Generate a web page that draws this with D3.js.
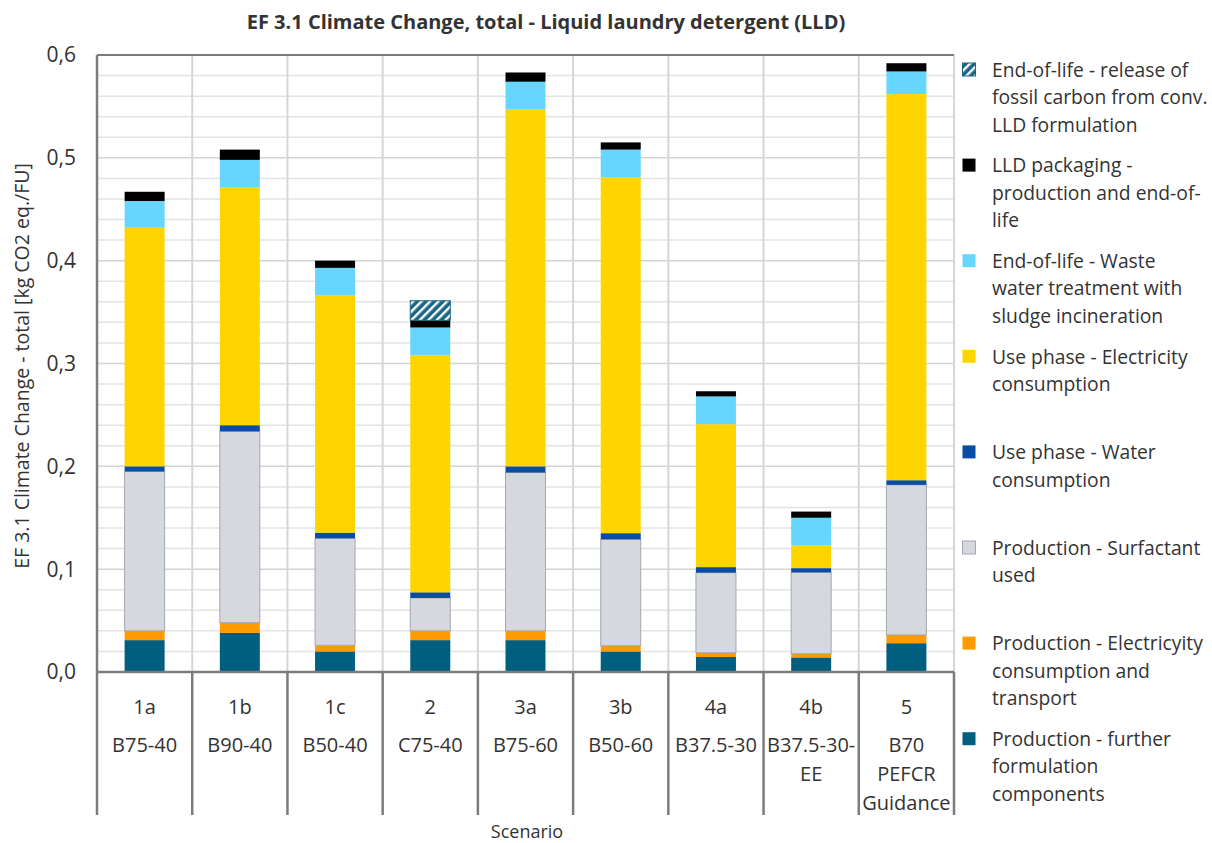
<!DOCTYPE html>
<html><head><meta charset="utf-8">
<script src="https://cdn.jsdelivr.net/npm/d3@7"></script>
<style>
body{margin:0;background:#fff;}
text{font-family:"Open Sans","Noto Sans",sans-serif;fill:#333;}
</style></head>
<body>
<svg id="chart" width="1212" height="843"></svg>
<script>
// ---- data ----
const scenarioIds = ["1a","1b","1c","2","3a","3b","4a","4b","5"];
const scenarioNames = [["B75-40"],["B90-40"],["B50-40"],["C75-40"],["B75-60"],["B50-60"],["B37.5-30"],["B37.5-30-","EE"],["B70","PEFCR","Guidance"]];
const prodFurther   = [0.031,0.038,0.020,0.031,0.031,0.020,0.0146,0.0142,0.028];
const prodElec      = [0.009,0.010,0.006,0.009,0.009,0.0056,0.0042,0.0036,0.008];
const prodSurf      = [0.155,0.186,0.104,0.032,0.154,0.1034,0.0778,0.0791,0.146];
const useWater      = [0.005,0.006,0.0055,0.0055,0.006,0.006,0.0054,0.0041,0.0045];
const useElec       = [0.232,0.231,0.2305,0.2305,0.347,0.346,0.139,0.022,0.3755];
const eolWaste      = [0.026,0.027,0.027,0.027,0.027,0.027,0.027,0.027,0.022];
const packaging     = [0.009,0.010,0.007,0.007,0.009,0.007,0.005,0.006,0.008];
const eolFossil     = [0,0,0,0.019,0,0,0,0,0];
const yTicks = [0,0.1,0.2,0.3,0.4,0.5,0.6];
const yTickLabels = ["0,0","0,1","0,2","0,3","0,4","0,5","0,6"];
const seriesDefs = [
  {key:"prodFurther", values:prodFurther, color:"#005E7E", label:["Production - further","formulation","components"]},
  {key:"prodElec", values:prodElec, color:"#FF9A00", label:["Production - Electricyity","consumption and","transport"]},
  {key:"prodSurf", values:prodSurf, color:"#D5D8DD", stroke:"#A3A8AE", label:["Production - Surfactant","used"]},
  {key:"useWater", values:useWater, color:"#0A4BA5", label:["Use phase - Water","consumption"]},
  {key:"useElec", values:useElec, color:"#FFD500", label:["Use phase - Electricity","consumption"]},
  {key:"eolWaste", values:eolWaste, color:"#66D6FF", label:["End-of-life - Waste","water treatment with","sludge incineration"]},
  {key:"packaging", values:packaging, color:"#000000", label:["LLD packaging -","production and end-of-","life"]},
  {key:"eolFossil", values:eolFossil, color:"url(#hatch)", stroke:"#1B6584", label:["End-of-life - release of","fossil carbon from conv.","LLD formulation"]}
];
const title = "EF 3.1 Climate Change, total - Liquid laundry detergent (LLD)";
const yTitle = "EF 3.1 Climate Change - total [kg CO2 eq./FU]";
const xTitle = "Scenario";

// ---- layout ----
const svg = d3.select("#chart");
const X0 = 97, X1 = 954, Y0 = 672, Y1 = 55;
const x = d3.scaleBand().domain(scenarioIds).range([X0, X1]).paddingInner(0.58).paddingOuter(0.29);
const y = d3.scaleLinear().domain([0, 0.6]).range([Y0, Y1]);
const step = x.step();

const defs = svg.append("defs");
const pat = defs.append("pattern").attr("id","hatch").attr("patternUnits","userSpaceOnUse")
  .attr("width",6).attr("height",6).attr("patternTransform","rotate(45)");
pat.append("rect").attr("width",6).attr("height",6).attr("fill","#1B6584");
pat.append("rect").attr("x",0).attr("width",2.4).attr("height",6).attr("fill","#fff");

// gridlines
const minor = d3.range(0, 0.6001, 0.02);
svg.append("g").selectAll("line").data(minor).join("line")
  .attr("x1", X0).attr("x2", X1)
  .attr("y1", d => y(d)).attr("y2", d => y(d))
  .attr("stroke", (d,i) => i % 5 === 0 ? "#D4D4D4" : "#E3E3E3").attr("stroke-width", 1.5);
const bounds = d3.range(0, scenarioIds.length + 1).map(i => X0 + i * step);
svg.append("g").selectAll("line").data(bounds.slice(1)).join("line")
  .attr("x1", d => d).attr("x2", d => d).attr("y1", Y1).attr("y2", Y0)
  .attr("stroke", "#D6D6D6").attr("stroke-width", 2);

// stacked bars
const rows = scenarioIds.map((id, i) => {
  const r = {id};
  seriesDefs.forEach(s => r[s.key] = s.values[i]);
  return r;
});
const stack = d3.stack().keys(seriesDefs.map(s => s.key));
const layers = stack(rows);
layers.forEach((layer, li) => {
  const s = seriesDefs[li];
  svg.append("g").selectAll("rect").data(layer.filter(d => d[1] - d[0] > 0)).join("rect")
    .attr("x", d => x(d.data.id)).attr("width", x.bandwidth())
    .attr("y", d => y(d[1])).attr("height", d => y(d[0]) - y(d[1]))
    .attr("fill", s.color)
    .attr("stroke", s.stroke || "none").attr("stroke-width", s.stroke ? 1 : 0);
});

// frame: top and left
svg.append("line").attr("x1", X0).attr("x2", X1).attr("y1", Y1).attr("y2", Y1).attr("stroke", "#7F7A7C").attr("stroke-width", 2);
svg.append("line").attr("x1", X0).attr("x2", X0).attr("y1", Y1).attr("y2", Y0).attr("stroke", "#7F7A7C").attr("stroke-width", 2.5);
// bottom axis and category dividers
svg.append("line").attr("x1", X0).attr("x2", X1).attr("y1", Y0).attr("y2", Y0).attr("stroke", "#7F7A7C").attr("stroke-width", 2.5);
svg.append("g").selectAll("line").data(bounds).join("line")
  .attr("x1", d => d).attr("x2", d => d).attr("y1", Y0).attr("y2", 815)
  .attr("stroke", "#7F7A7C").attr("stroke-width", 2.5);

// y tick labels
svg.append("g").selectAll("text").data(yTicks).join("text")
  .attr("x", 76).attr("y", d => y(d)).attr("dy", "0.35em")
  .attr("text-anchor", "end").attr("font-size", 21)
  .text((d,i) => yTickLabels[i]);

// category labels
const cat = svg.append("g").selectAll("g").data(scenarioIds).join("g")
  .attr("transform", d => `translate(${x(d) + x.bandwidth()/2},0)`);
cat.append("text").attr("y", 714).attr("text-anchor","middle").attr("font-size",20).text(d => d);
cat.each(function(d, i){
  const g = d3.select(this);
  scenarioNames[i].forEach((ln, j) => {
    g.append("text").attr("y", 752 + j * 29).attr("text-anchor","middle").attr("font-size",20).text(ln);
  });
});

// titles
svg.append("text").attr("x", 546).attr("y", 29).attr("text-anchor","middle")
  .attr("font-size", 20).attr("font-weight","bold").text(title);
svg.append("text").attr("transform","translate(29,366) rotate(-90)").attr("text-anchor","middle")
  .attr("font-size", 19.5).text(yTitle);
svg.append("text").attr("x", 527).attr("y", 838).attr("text-anchor","middle").attr("font-size", 18).text(xTitle);

// legend (top to bottom reverse of stack)
const legendItems = seriesDefs.slice().reverse();
const lg = svg.append("g").selectAll("g").data(legendItems).join("g")
  .attr("transform", (d,i) => `translate(962,${70 + i * 95.6})`);
lg.append("rect").attr("x", 0.5).attr("y", -7).attr("width", 13).attr("height", 13)
  .attr("fill", d => d.color).attr("stroke", d => d.stroke || "none").attr("stroke-width", 1);
lg.each(function(d){
  const g = d3.select(this);
  d.label.forEach((ln, j) => {
    g.append("text").attr("x", 30).attr("y", j * 27.5).attr("dy","0.35em").attr("font-size", 19.3).text(ln);
  });
});
</script>
</body></html>
